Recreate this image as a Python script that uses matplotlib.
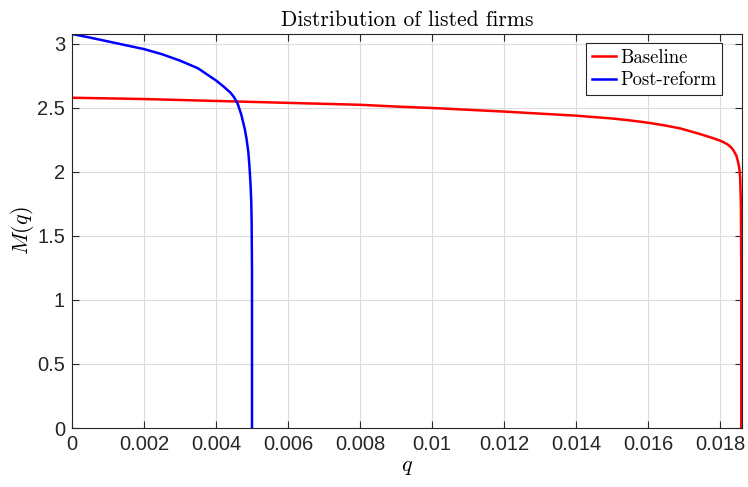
import matplotlib
matplotlib.use("Agg")
import matplotlib.pyplot as plt
from matplotlib.ticker import FixedLocator, FixedFormatter

# ---- data ----
q_base = [0.0, 0.002, 0.004, 0.006, 0.008, 0.0091, 0.010, 0.012, 0.014, 0.015,
          0.0155, 0.016, 0.0165, 0.0169, 0.0174, 0.0178, 0.0180, 0.0181, 0.0182,
          0.0183, 0.01837, 0.01845, 0.0185, 0.01854, 0.01856, 0.01858,
          0.01859, 0.01859]
m_base = [2.58, 2.57, 2.555, 2.54, 2.525, 2.51, 2.50, 2.472, 2.44, 2.418,
          2.403, 2.385, 2.362, 2.34, 2.30, 2.265, 2.245, 2.232, 2.217,
          2.195, 2.17, 2.13, 2.08, 2.02, 1.95, 1.75,
          1.20, 0.0]

q_post = [0.0, 0.0005, 0.001, 0.0015, 0.002, 0.0025, 0.003, 0.0035, 0.004,
          0.0042, 0.0044, 0.0045, 0.0046, 0.0047, 0.0048, 0.00485, 0.0049,
          0.00493, 0.00496, 0.00498, 0.00499, 0.005, 0.005]
m_post = [3.078, 3.05, 3.02, 2.99, 2.96, 2.92, 2.87, 2.81, 2.715,
          2.67, 2.62, 2.585, 2.535, 2.45, 2.335, 2.255, 2.15,
          2.04, 1.90, 1.76, 1.60, 1.20, 0.0]

x_ticks = [0, 0.002, 0.004, 0.006, 0.008, 0.01, 0.012, 0.014, 0.016, 0.018]
x_labels = ["0", "0.002", "0.004", "0.006", "0.008", "0.01", "0.012", "0.014", "0.016", "0.018"]
y_ticks = [0, 0.5, 1, 1.5, 2, 2.5, 3]
y_labels = ["0", "0.5", "1", "1.5", "2", "2.5", "3"]

series_labels = ["Baseline", "Post-reform"]
title_text = "Distribution of listed firms"

# ---- figure ----
plt.rcParams["mathtext.fontset"] = "cm"
plt.rcParams["axes.unicode_minus"] = False

fig = plt.figure(figsize=(7.48, 4.87), dpi=100)
ax = fig.add_axes([72/748, 59/487, 670/748, 394/487])

axcol = "#262626"
ax.plot(q_base, m_base, color="#ff0000", lw=1.8, label=series_labels[0])
ax.plot(q_post, m_post, color="#0000ff", lw=1.8, label=series_labels[1])

ax.set_xlim(0, 0.01861)
ax.set_ylim(0, 3.078)

ax.xaxis.set_major_locator(FixedLocator(x_ticks))
ax.xaxis.set_major_formatter(FixedFormatter(x_labels))
ax.yaxis.set_major_locator(FixedLocator(y_ticks))
ax.yaxis.set_major_formatter(FixedFormatter(y_labels))

ax.grid(True, color="#dcdcdc", lw=0.8)
ax.set_axisbelow(True)
for s in ax.spines.values():
    s.set_color(axcol)
    s.set_linewidth(0.8)
ax.tick_params(direction="in", top=True, right=True, length=5, width=0.8,
               color=axcol, labelcolor=axcol, labelsize=14.5, pad=5)
for lab in ax.get_xticklabels() + ax.get_yticklabels():
    lab.set_family("Liberation Sans")

ax.set_title(title_text, fontfamily="cmr10", fontsize=15.5, pad=6)
ax.set_xlabel(r"$q$", fontsize=16, labelpad=2)
ax.set_ylabel(r"$M(q)$", fontsize=16, labelpad=1)

leg = ax.legend(loc="upper right", bbox_to_anchor=(0.970, 0.977), borderaxespad=0,
                fancybox=False, framealpha=1, edgecolor=axcol,
                prop={"family": "cmr10", "size": 13.5}, handlelength=1.3,
                handletextpad=0.2, borderpad=0.3, labelspacing=0.25)
leg.get_frame().set_linewidth(0.8)

fig.savefig("out.png", dpi=100)
